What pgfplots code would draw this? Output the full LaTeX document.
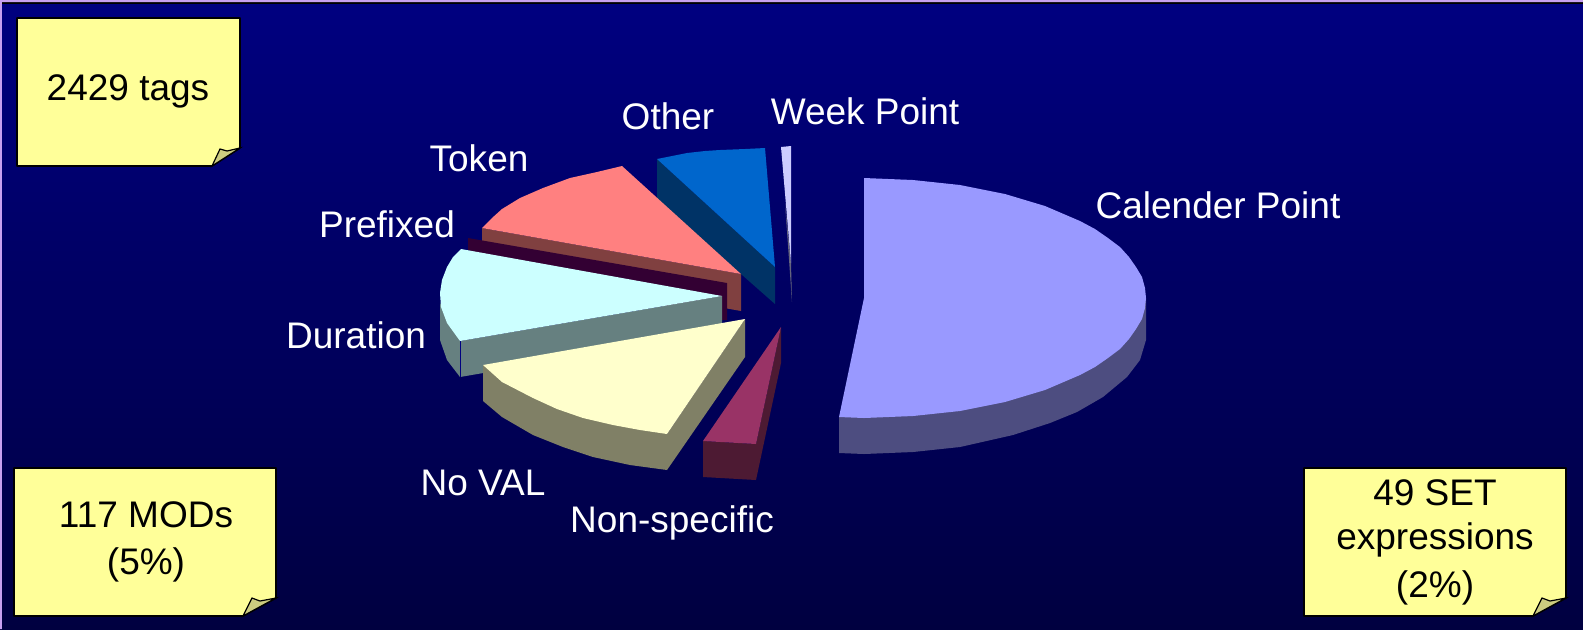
\documentclass[border=0pt]{standalone}
\usepackage{fontspec}
\setmainfont{Liberation Sans}
\usepackage{pgfplots}
\pgfplotsset{compat=1.18}
\definecolor{bgT}{HTML}{000080}
\definecolor{bgB}{HTML}{000040}
\definecolor{note}{HTML}{FFFF99}
\definecolor{fold}{HTML}{CCCC80}
\definecolor{frame}{HTML}{C8A0F0}
\definecolor{calS}{RGB}{77,77,128}
\definecolor{calT}{RGB}{153,153,255}
\definecolor{othS}{RGB}{0,51,102}
\definecolor{othT}{RGB}{0,102,204}
\definecolor{wkS}{RGB}{100,100,125}
\definecolor{wkT}{RGB}{204,204,255}
\definecolor{tokS}{RGB}{128,64,64}
\definecolor{tokT}{RGB}{255,128,128}
\definecolor{preS}{RGB}{51,0,51}
\definecolor{durS}{RGB}{102,128,128}
\definecolor{durT}{RGB}{204,255,255}
\definecolor{valS}{RGB}{128,128,102}
\definecolor{valT}{RGB}{255,255,204}
\definecolor{nonS}{RGB}{77,26,51}
\definecolor{nonT}{RGB}{153,51,102}
\tikzset{
 lab/.style={anchor=base,text=white,font=\fontsize{18.5}{20}\selectfont,inner sep=0pt},
 blab/.style={anchor=base,text=black,font=\fontsize{18.5}{20}\selectfont,inner sep=0pt}}
\pgfplotsset{face/.style={fill=#1,draw=none,no markers},
 notebox/.style={fill=note,draw=black,line width=0.8pt,no markers,line join=round},
 foldbox/.style={fill=fold,draw=black,line width=0.6pt,no markers}}
\begin{document}
\begin{tikzpicture}
\begin{axis}[width=791.5pt,height=314.5pt,scale only axis,xmin=0,xmax=1583,ymin=0,ymax=629,y dir=reverse,hide axis,clip=true]
\path[top color=bgT,bottom color=bgB] (axis cs:0,0) rectangle (axis cs:1583,629);
% frame
\addplot[face=black] coordinates {(0,2)(1583,2)(1583,4)(0,4)} --cycle;
\addplot[face=frame] coordinates {(0,0)(1583,0)(1583,2)(2,2)(2,629)(0,629)} --cycle;
% Calender Point
\addplot[face=calS] coordinates {(1146,298)(1146,340)(1140,360)(1127,377)(1103,397)(1077,412)(1050,423)(1013,435)(960,447)(913,452)(864,454)(839,453)(839,417)(900,400)} --cycle;
\addplot[face=calT] coordinates {(864,178)(913,180)(960,185)(1005,194)(1045,206)(1080,221)(1095,229)(1108,238)(1120,247)(1129,257)(1136,267)(1142,277)(1145,288)(1146,298)(1145,308)(1142,319)(1136,329)(1129,339)(1120,349)(1108,358)(1095,367)(1080,375)(1045,390)(1005,402)(960,411)(913,416)(864,418)(839,417)(864,298)} --cycle;
% Other
\addplot[face=othS] coordinates {(657,159)(775,267)(775,304)(657,200)} --cycle;
\addplot[face=othT] coordinates {(657,159)(672,156)(687,153)(705,151)(720,150)(745,149)(765,148)(775,267)} --cycle;
% Week Point
\addplot[face=wkS] coordinates {(785,203)(791,263)(792,302)} --cycle;
\addplot[face=wkT] coordinates {(781,147)(791,146)(791,263)} --cycle;
% Token
\addplot[face=tokS] coordinates {(482,228)(741,274)(741,311)(482,265)} --cycle;
\addplot[face=tokT] coordinates {(482,228)(492,218)(502,209)(520,198)(543,188)(570,178)(597,172)(622,166)(741,274)} --cycle;
% Prefixed
\addplot[face=preS] coordinates {(468,238)(727,283)(727,320)(715,320)(468,250)} --cycle;
% Duration
\addplot[face=durS] coordinates {(440,303)(440,340)(447,360)(460,377)(722,332)(722,296)(460,341)} --cycle;
\addplot[face=bgT] coordinates {(459.5,341)(460.5,341)(460.5,377)(459.5,377)} --cycle;
\addplot[face=durT] coordinates {(461,249)(453,257)(447,267)(442,280)(440,293)(441,307)(447,323)(460,341)(722,296)} --cycle;
% No VAL
\addplot[face=valS] coordinates {(483,365)(483,401)(502,417)(533,435)(563,447)(593,457)(630,465)(667,470)(745,357)(745,319)(667,434)} --cycle;
\addplot[face=valT] coordinates {(483,365)(502,382)(533,398)(557,409)(583,418)(613,425)(640,430)(667,434)(745,319)} --cycle;
% Non-specific
\addplot[face=nonS] coordinates {(703,441)(703,477)(756,480)(781,363)(781,327)(756,444)} --cycle;
\addplot[face=nonT] coordinates {(703,441)(756,444)(781,327)} --cycle;
% notes
\addplot[notebox] coordinates {(17,18)(240,18)(240,148)(212,166)(17,166)} --cycle;
\addplot[foldbox] coordinates {(212,166)(220,149)(227,151)(240,148)} --cycle;
\addplot[notebox] coordinates {(14,468)(276,468)(276,598)(243,616)(14,616)} --cycle;
\addplot[foldbox] coordinates {(243,616)(252,598)(260,601)(276,598)} --cycle;
\addplot[notebox] coordinates {(1304,468)(1566,468)(1566,598)(1533,616)(1304,616)} --cycle;
\addplot[foldbox] coordinates {(1533,616)(1542,598)(1550,601)(1566,598)} --cycle;
% labels
\node[lab] at (axis cs:668,129) {Other};
\node[lab] at (axis cs:865,124) {Week Point};
\node[lab] at (axis cs:479,171) {Token};
\node[lab] at (axis cs:387,237) {Prefixed};
\node[lab] at (axis cs:356,348) {Duration};
\node[lab] at (axis cs:483,495) {No VAL};
\node[lab] at (axis cs:672,532) {Non-specific};
\node[lab] at (axis cs:1218,218) {Calender Point};
\node[blab] at (axis cs:128,100) {2429 tags};
\node[blab] at (axis cs:146,527) {117 MODs};
\node[blab] at (axis cs:146,574) {(5\%)};
\node[blab] at (axis cs:1435,505) {49 SET};
\node[blab] at (axis cs:1435,549) {expressions};
\node[blab] at (axis cs:1435,597) {(2\%)};
\end{axis}
\end{tikzpicture}
\end{document}
